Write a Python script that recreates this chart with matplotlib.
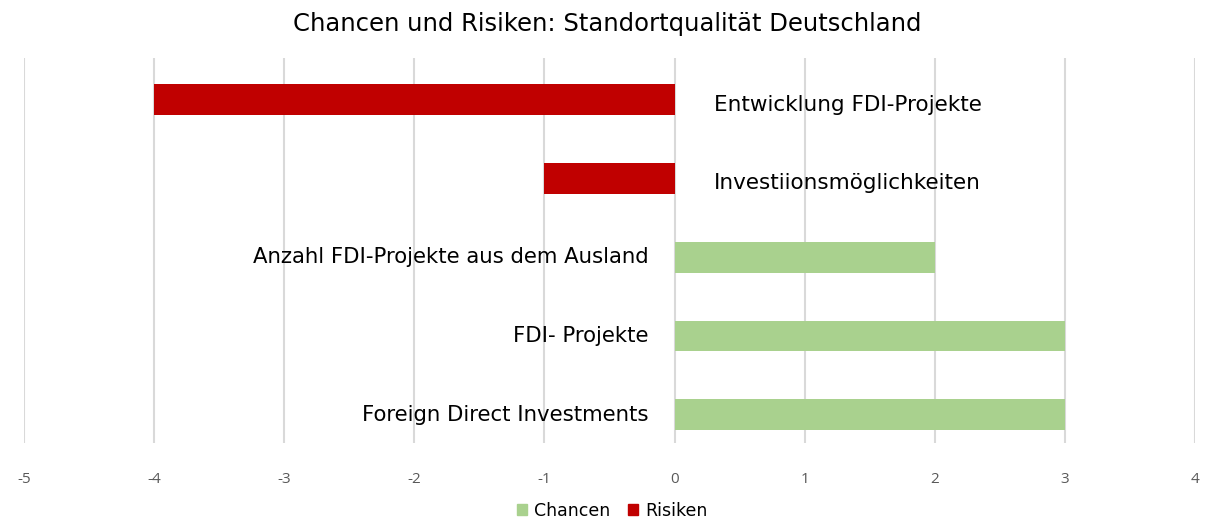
import matplotlib
matplotlib.use("Agg")
import matplotlib.pyplot as plt
from matplotlib.patches import Patch

categories = ["Entwicklung FDI-Projekte", "Investiionsmöglichkeiten",
              "Anzahl FDI-Projekte aus dem Ausland", "FDI- Projekte",
              "Foreign Direct Investments"]
values = [-4, -1, 2, 3, 3]
xticks = [-5, -4, -3, -2, -1, 0, 1, 2, 3, 4]
title = "Chancen und Risiken: Standortqualität Deutschland"
legend_labels = ["Chancen", "Risiken"]

green = "#A9D18E"
red = "#C00000"

plt.rcParams['font.family'] = ['DejaVu Sans']

fig = plt.figure(figsize=(12.1, 5.2), dpi=100)
ax = fig.add_axes([24/1210, 1-443/520, (1195-24)/1210, (443-58)/520])

ypos = list(range(len(categories)))
colors = [red if v < 0 else green for v in values]
ax.barh(ypos, values, height=0.39, color=colors, zorder=3)

for y, v, c in zip(ypos, values, categories):
    if v < 0:
        ax.text(0.3, y + 0.14, c, ha='left', va='baseline', fontsize=15.5, color='black')
    else:
        ax.text(-0.2, y + 0.08, c, ha='right', va='baseline', fontsize=15.3, color='black')

ax.set_xlim(-5, 4)
ax.set_ylim(4.36, -0.53)
ax.set_xticks(xticks)
ax.set_xticklabels([str(t) for t in xticks], fontsize=11, color='#595959',
                   family=['Open Sans', 'DejaVu Sans'])
ax.set_yticks([])
ax.tick_params(axis='x', length=0, pad=21)
ax.grid(axis='x', color='#d9d9d9', linewidth=1.5, zorder=0)
for s in ax.spines.values():
    s.set_visible(False)

fig.text(607/1210, 1-31/520, title, ha='center', va='baseline', fontsize=17.5, color='black')

handles = [Patch(color=green), Patch(color=red)]
fig.legend(handles, legend_labels, loc='center', bbox_to_anchor=(612/1210, 1-511/520),
           ncol=2, frameon=False, fontsize=12.5, handlelength=0.6, handleheight=0.6,
           handletextpad=0.4, columnspacing=1.0)

fig.savefig("out.png", dpi=100, facecolor='white')
